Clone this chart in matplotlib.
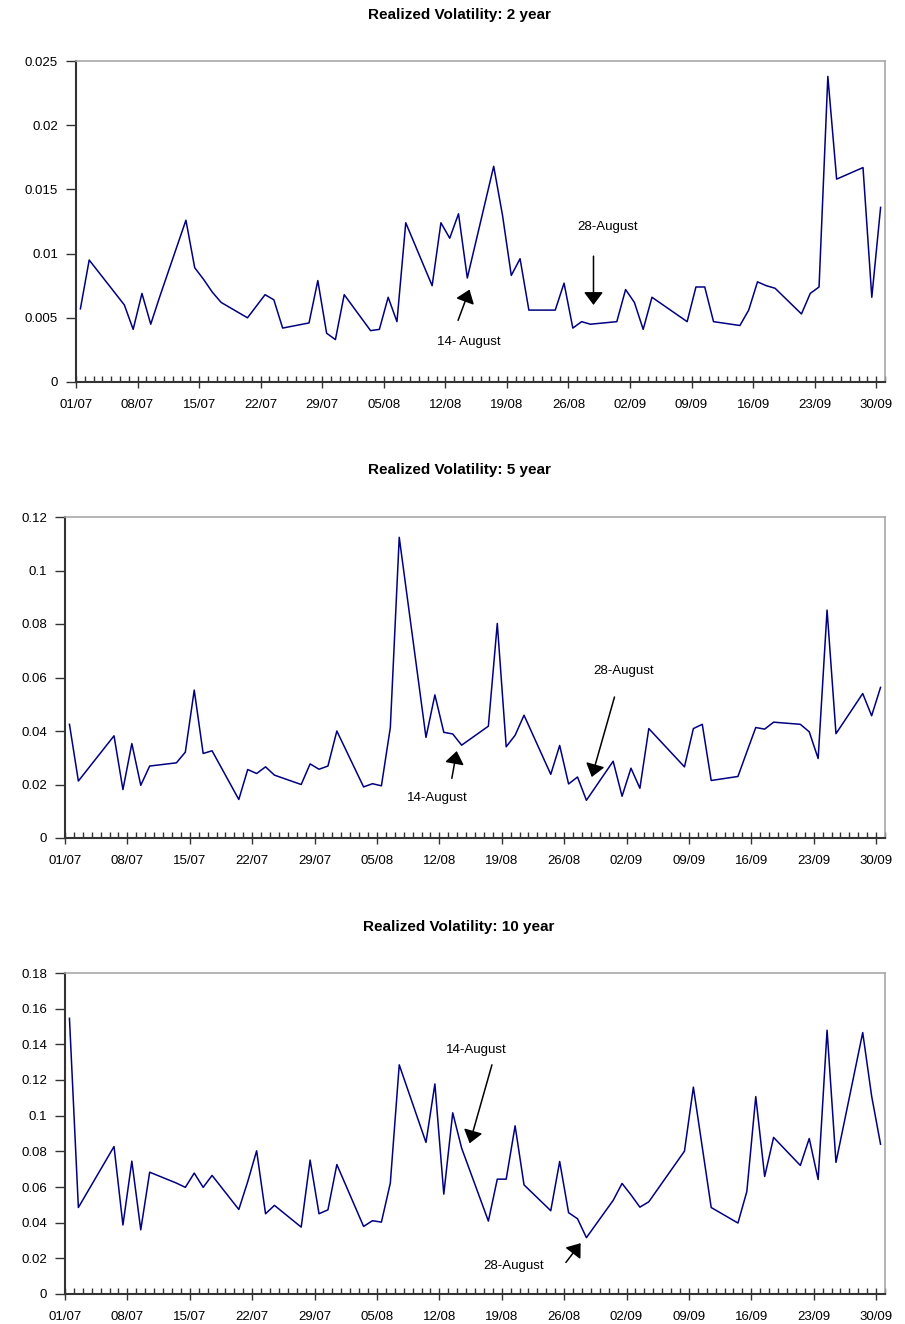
import matplotlib
matplotlib.use("Agg")
from matplotlib import pyplot as plt
import matplotlib.dates as mdates
import matplotlib.ticker as mticker
import pandas as pd
import numpy as np

plt.rcParams['font.family'] = ['Liberation Sans', 'DejaVu Sans']

# trading days, Jul-Sep 2009 (no 3 Jul, no 7 Sep)
jul_days = [1, 2, 6, 7, 8, 9, 10, 13, 14, 15, 16, 17, 20, 21, 22, 23, 24, 27, 28, 29, 30, 31]
aug_days = [3, 4, 5, 6, 7, 10, 11, 12, 13, 14, 17, 18, 19, 20, 21, 24, 25, 26, 27, 28, 31]
sep_days = [1, 2, 3, 4, 8, 9, 10, 11, 14, 15, 16, 17, 18, 21, 22, 23, 24, 25, 28, 29, 30]

dates = pd.to_datetime([f"2009-07-{d:02d}" for d in jul_days]
                       + [f"2009-08-{d:02d}" for d in aug_days]
                       + [f"2009-09-{d:02d}" for d in sep_days])

vol_2y = [0.0057, 0.0095, 0.0060, 0.0041, 0.0069, 0.0045, 0.0066, 0.0126, 0.0089, 0.0080, 0.0070,
          0.0062, 0.0050, 0.0059, 0.0068, 0.0064, 0.0042, 0.0046, 0.0079, 0.0038, 0.0033, 0.0068,
          0.0040, 0.0041, 0.0066, 0.0047, 0.0124, 0.0075, 0.0124, 0.0112, 0.0131, 0.0081, 0.0168,
          0.0130, 0.0083, 0.0096, 0.0056, 0.0056, 0.0077, 0.0042, 0.0047, 0.0045, 0.0047,
          0.0072, 0.0062, 0.0041, 0.0066, 0.0047, 0.0074, 0.0074, 0.0047, 0.0044, 0.0056, 0.0078,
          0.0075, 0.0073, 0.0053, 0.0069, 0.0074, 0.0238, 0.0158, 0.0167, 0.0066, 0.0136]

vol_5y = [0.0425, 0.0213, 0.0382, 0.0181, 0.0353, 0.0197, 0.0269, 0.0281, 0.0321, 0.0553, 0.0316,
          0.0326, 0.0144, 0.0256, 0.0241, 0.0266, 0.0235, 0.0200, 0.0277, 0.0257, 0.0269, 0.0400,
          0.0191, 0.0203, 0.0195, 0.0413, 0.1124, 0.0376, 0.0535, 0.0395, 0.0389, 0.0347, 0.0418,
          0.0802, 0.0341, 0.0384, 0.0459, 0.0238, 0.0346, 0.0202, 0.0228, 0.0141, 0.0287,
          0.0156, 0.0261, 0.0186, 0.0409, 0.0266, 0.0409, 0.0425, 0.0215, 0.0230, 0.0322, 0.0413,
          0.0407, 0.0433, 0.0425, 0.0397, 0.0297, 0.0852, 0.0390, 0.0540, 0.0457, 0.0563]

vol_10y = [0.1546, 0.0485, 0.0827, 0.0387, 0.0745, 0.0360, 0.0683, 0.0622, 0.0598, 0.0678, 0.0598,
           0.0665, 0.0474, 0.0630, 0.0803, 0.0450, 0.0497, 0.0375, 0.0751, 0.0450, 0.0472, 0.0726,
           0.0379, 0.0411, 0.0403, 0.0622, 0.1285, 0.0850, 0.1178, 0.0560, 0.1016, 0.0818, 0.0409,
           0.0644, 0.0644, 0.0943, 0.0612, 0.0467, 0.0743, 0.0456, 0.0422, 0.0316, 0.0525,
           0.0620, 0.0556, 0.0487, 0.0517, 0.0801, 0.1160, 0.0823, 0.0485, 0.0398, 0.0575, 0.1107,
           0.0659, 0.0878, 0.0721, 0.0872, 0.0642, 0.1479, 0.0738, 0.1466, 0.1110, 0.0840]

titles = ["Realized Volatility: 2 year", "Realized Volatility: 5 year", "Realized Volatility: 10 year"]
y_max = [0.025, 0.12, 0.18]
y_step = [0.005, 0.02, 0.02]

W, H = 905, 1324
fig = plt.figure(figsize=(W / 100, H / 100), dpi=100)

start = mdates.date2num(pd.Timestamp("2009-07-01"))

def day(n):
    return start + n

# panel boxes in pixels: left, top, right, bottom
boxes = [(76, 61, 885, 382), (65, 517, 885, 838), (65, 973, 885, 1294)]
title_y = [15, 470, 927]

# annotations: label, text (day, value), tail (day, value), tip (day, value)
notes = [
    [("28-August", (60.5, 0.0121), (58.85, 0.0098), (58.85, 0.0060)),
     ("14- August", (44.7, 0.0031), (43.45, 0.0048), (44.75, 0.0072))],
    [("28-August", (62.7, 0.0624), (61.65, 0.0527), (59.1, 0.0228)),
     ("14-August", (41.8, 0.0150), (43.4, 0.0223), (43.95, 0.0325))],
    [("14-August", (46.1, 0.1369), (47.9, 0.1285), (45.4, 0.0845)),
     ("28-August", (50.3, 0.0155), (56.2, 0.0177), (57.85, 0.0285))],
]

series = [vol_2y, vol_5y, vol_10y]
x = mdates.date2num(dates) + 0.5  # points sit in the middle of each day slot

for i in range(3):
    l, t, r, b = boxes[i]
    ax = fig.add_axes([l / W, 1 - b / H, (r - l) / W, (b - t) / H])
    ax.plot(x, series[i], color="#000080", lw=1.1)

    ax.set_xlim(day(0), day(92))
    ax.set_ylim(0, y_max[i])
    ax.xaxis.set_major_locator(mticker.FixedLocator([day(k) for k in range(0, 92, 7)]))
    ax.xaxis.set_minor_locator(mticker.MultipleLocator(1))
    ax.xaxis.set_major_formatter(mdates.DateFormatter("%d/%m"))
    ax.yaxis.set_major_locator(mticker.MultipleLocator(y_step[i]))
    ax.yaxis.set_major_formatter(mticker.FuncFormatter(lambda v, p: "%g" % round(v, 4)))

    ax.tick_params(axis="x", which="major", direction="inout", length=9, width=1,
                   labelsize=9.5, pad=7.5, color="#333333")
    ax.tick_params(axis="x", which="minor", direction="in", length=4, width=1, color="#333333")
    ax.tick_params(axis="y", direction="out", length=7, width=1, labelsize=9.5, pad=6,
                   color="#333333")

    for s in ["left", "bottom"]:
        ax.spines[s].set_color("#333333")
        ax.spines[s].set_linewidth(1.5)
    for s in ["top", "right"]:
        ax.spines[s].set_color("#a8a8a8")
        ax.spines[s].set_linewidth(1.2)

    for label, txt, tail, tip in notes[i]:
        ax.annotate("", xy=(day(tip[0]), tip[1]), xytext=(day(tail[0]), tail[1]),
                    arrowprops=dict(arrowstyle="-|>,head_length=0.6,head_width=0.45",
                                    color="black", lw=1.1, mutation_scale=13,
                                    shrinkA=0, shrinkB=0))
        ax.text(day(txt[0]), txt[1], label, ha="center", va="center", fontsize=9.5)

    fig.text(459 / W, 1 - title_y[i] / H, titles[i], ha="center", va="center",
             fontsize=11, fontweight="bold")

plt.savefig("out.png", dpi=100)
